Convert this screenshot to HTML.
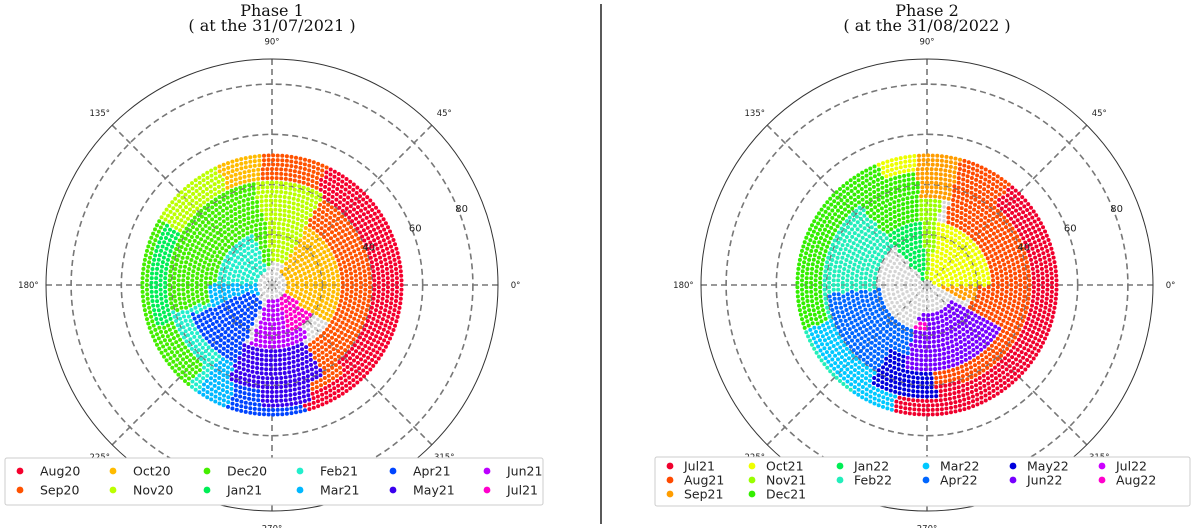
<!DOCTYPE html>
<html><head><meta charset="utf-8">
<style>
html,body{margin:0;padding:0;background:#fff;width:1200px;height:528px;overflow:hidden}
svg{display:block}
text{font-family:"DejaVu Sans","Liberation Sans",sans-serif}
.title{font-family:"DejaVu Serif","Liberation Serif",serif;font-size:16px;fill:#111}
.ang{font-size:8.5px;fill:#222}
.leg{font-size:12.5px;fill:#222}
</style></head>
<body>
<svg id="chart" width="1200" height="528" viewBox="0 0 1200 528">
<line x1="601" y1="4" x2="601" y2="524" stroke="#000" stroke-width="1.3"/>
</svg>
<script>
// ---- data ----
const months1 = ["Aug20","Sep20","Oct20","Nov20","Dec20","Jan21","Feb21","Mar21","Apr21","May21","Jun21","Jul21"];
const colors1 = ["#f5002d","#ff5200","#ffbb00","#bbff00","#44ee00","#00ee55","#22eecc","#00b8ff","#0044ff","#3a00ee","#bb00ff","#ff00cc"];
// regions: [monthIndex, thetaStart, thetaEnd, rMin, rMax]
const regions1 = [
 [0,-85,65,40,54],[1,-60,75,28,40],[1,65,95,42,54],[1,-70,-50,30,45],
 [2,-35,60,5,28],[2,95,115,42,54],[3,60,100,10,42],[3,115,150,42,54],
 [4,100,195,22,42],[4,150,230,42,54],[4,95,110,8,30],[5,150,200,42,48],
 [6,110,200,5,22],
 [6,195,235,25,42],[6,230,250,42,54],[7,180,215,5,25],[7,235,265,35,54],
 [8,200,245,8,35],[8,250,285,40,54],[9,245,300,25,42],[9,265,290,42,48],
 [10,250,305,5,25],[11,290,325,5,20]
];
const months2 = ["Jul21","Aug21","Sep21","Oct21","Nov21","Dec21","Jan22","Feb22","Mar22","Apr22","May22","Jun22","Jul22","Aug22"];
const colors2 = ["#f0002d","#ff4a00","#ff9d00","#eeff00","#99ff00","#33ee00","#00ee55","#22eebb","#00c8ff","#0066ff","#0000dd","#7700ff","#cc00ff","#ff00cc"];
const regions2 = [
 [1,-90,75,18,42],[0,-80,50,42,54],[0,250,290,40,54],[1,50,75,42,54],
 [2,75,95,35,54],[2,-20,10,5,20],[3,0,80,3,25],[3,95,112,45,54],
 [4,80,95,3,35],[5,95,160,25,45],[5,112,210,42,54],[6,95,130,3,25],
 [7,130,200,20,42],[7,200,235,42,54],[8,200,250,35,50],
 [8,235,255,45,54],[9,185,260,18,40],[10,240,275,30,45],[11,255,330,12,35],
 [13,255,270,14,18]
];
const rTicks = [20,40,60,80];
const rLabels = ["40","60","80"];
const angTicks = [0,45,90,135,180,225,270,315];
const rMax = 90;

const NS="http://www.w3.org/2000/svg";
const svg=document.getElementById('chart');
function mk(tag,attrs,parent){const e=document.createElementNS(NS,tag);for(const k in attrs)e.setAttribute(k,attrs[k]);(parent||svg).appendChild(e);return e;}

function drawPolar(cx,cy,R,title,sub,months,colors,regions,legend,name){
  const g=mk('g',{});
  
  
  const rs=v=>v/rMax*R;
  const px=(th,r)=>cx+rs(r)*Math.cos(th*Math.PI/180);
  const py=(th,r)=>cy-rs(r)*Math.sin(th*Math.PI/180);
  let t=mk('text',{x:cx,y:16,'text-anchor':'middle',class:'title'},g);t.textContent=title;
  
  
  t=mk('text',{x:cx,y:31,'text-anchor':'middle',class:'title'},g);t.textContent=sub;
  
  
  const grid=mk('g',{stroke:'#777','stroke-width':1.6,'stroke-dasharray':'6,4',fill:'none'},g);
  
  
  rTicks.forEach(v=>{mk('circle',{cx,cy,r:rs(v)},grid);});
  angTicks.forEach(a=>{mk('line',{x1:cx,y1:cy,x2:px(a,rMax),y2:py(a,rMax)},grid);});
  const oc=mk('circle',{cx,cy,r:R,fill:'none',stroke:'#333','stroke-width':1},g);
  
  
  angTicks.forEach(a=>{
    const l=mk('text',{x:px(a,rMax+7),y:py(a,rMax+7)+3,'text-anchor':'middle',class:'ang'},g);
    l.textContent=a+'°';
    
    
  });
  const dg=mk('g',{},g);
  
  
  const stepR=1.8, sp=4.6;
  for(let r=1.2,i=0;r<=52.5;r+=stepR,i++){
    const pr=rs(r);const n=Math.max(6,Math.round(2*Math.PI*pr/sp));
    for(let k=0;k<n;k++){
      const th=(k+(i%2)*0.5)/n*360;
      let m=-1;
      regions.forEach(rg=>{
        let a=th; while(a<rg[1])a+=360; while(a>=rg[1]+360)a-=360;
        if(a<=rg[2]&&r>=rg[3]&&r<rg[4])m=rg[0];
      });
      const c=m<0?'#d4d4d4':colors[m];
      const d=mk('circle',{cx:px(th,r).toFixed(1),cy:py(th,r).toFixed(1),r:m<0?1.7:2.0,fill:c},dg);
      
      
    }
  }
  rLabels.forEach(s=>{
    const v=+s;
    const l=mk('text',{x:px(22.5,v)+4,y:py(22.5,v)+4,'text-anchor':'middle',class:'ang',style:'font-size:10px'},g);
    l.textContent=s;
    
    
  });
  const lg=mk('g',{},g);
  
  
  const box=mk('rect',{x:legend.x,y:legend.y,width:legend.w,height:legend.h,fill:'#fff',stroke:'#ccc','stroke-width':1,rx:2},lg);
  
  
  months.forEach((mo,i)=>{
    const [col,row]=legend.order[i];
    const col0=legend.cols[col];
    const yy=legend.rowY[row];
    const e=mk('g',{},lg);
    
    
    mk('circle',{cx:col0,cy:yy,r:3.4,fill:colors[i]},e);
    const tt=mk('text',{x:col0+legend.dx,y:yy+4.5,class:'leg'},e);tt.textContent=mo;
  });
}
drawPolar(272,285,226,'Phase 1','( at the 31/07/2021 )',months1,colors1,regions1,
  {x:5,y:458,w:538,h:47,cols:[20,113,207,300,393,487],rowY:[471,490],dx:20,
   order:[[0,0],[0,1],[1,0],[1,1],[2,0],[2,1],[3,0],[3,1],[4,0],[4,1],[5,0],[5,1]]},'phase1-polar-chart');
drawPolar(927,285,226,'Phase 2','( at the 31/08/2022 )',months2,colors2,regions2,
  {x:655,y:457,w:535,h:49,cols:[670,752,840,926,1013,1102],rowY:[466,480,494],dx:14,
   order:[[0,0],[0,1],[0,2],[1,0],[1,1],[1,2],[2,0],[2,1],[3,0],[3,1],[4,0],[4,1],[5,0],[5,1]]},'phase2-polar-chart');
</script>
</body></html>
